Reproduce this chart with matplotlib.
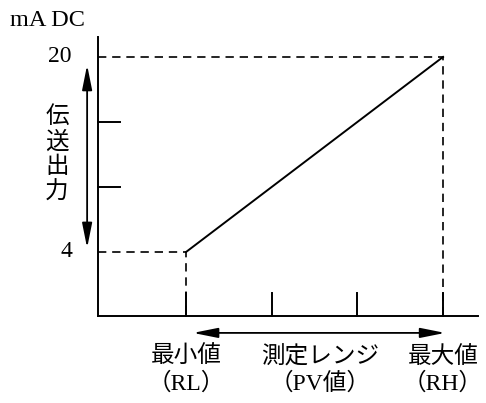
import numpy as np
import matplotlib.pyplot as plt

plt.rcParams['font.family'] = ['Liberation Serif', 'Noto Sans CJK JP']

# --- data ---------------------------------------
range_pct  = [0, 100]          # RL .. RH
output_ma  = [4, 20]           # transmitted output, mA DC
y_labels   = ['4', '20']
axis_label = '伝送出力'
unit_label = 'mA DC'
x_captions = [('最小値', '（RL）'), ('測定レンジ', '（PV値）'), ('最大値', '（RH）')]
caption_x  = [0, 52, 100]
# ------------------------------------------------

fig = plt.figure(figsize=(4.86, 4.03), dpi=100)
ax = fig.add_axes([0, 0, 1, 1])
ax.set_xlim(-72.4, 116.7)
ax.set_ylim(-8.39, 24.67)
ax.axis('off')

lw = 1.4
x0, x1 = -34.2, 113.6   # axis extents
y0, y1 = -1.25, 21.6

# axes
ax.plot([x0, x0], [y0, y1], color='black', lw=lw)
ax.plot([x0, x1], [y0, y0], color='black', lw=lw)

# y ticks (short, pointing right)
for v in np.linspace(output_ma[0], output_ma[1], 4)[1:-1]:
    ax.plot([x0, x0 + 8.5], [v, v], color='black', lw=lw)
# x ticks (pointing up)
for v in np.linspace(range_pct[0], range_pct[1], 4):
    ax.plot([v, v], [y0, y0 + 1.9], color='black', lw=lw)

# characteristic line
ax.plot(range_pct, output_ma, color='black', lw=lw)

# dashed guides
dash = dict(color='black', lw=1.2, ls=(0, (5, 3.5)))
ax.plot([x0, range_pct[0], range_pct[0]], [output_ma[0], output_ma[0], y0], **dash)
ax.plot([x0, range_pct[1], range_pct[1]], [output_ma[1], output_ma[1], y0], **dash)

# double arrows
arr = dict(arrowstyle='<|-|>,head_length=1.5,head_width=0.3', color='black',
           lw=1.3, shrinkA=0, shrinkB=0)
ax.annotate('', xy=(-38.5, 19.34), xytext=(-38.5, 4.33), arrowprops=arr)
ax.annotate('', xy=(2.7, -2.64), xytext=(100.8, -2.64), arrowprops=arr)

# texts
fs = 17
ax.text(-68.5, 23.0, unit_label, fontsize=17.5, ha='left', va='center')
for v, s in zip(output_ma, y_labels):
    ax.text(-44.4, v, s, fontsize=fs, ha='right', va='center')
for c, v in zip(axis_label, np.linspace(15.07, 8.84, len(axis_label))):
    ax.text(-50.2, v, c, fontsize=fs, ha='center', va='center')
for cx, (a, b) in zip(caption_x, x_captions):
    ax.text(cx, -4.61, a, fontsize=fs, ha='center', va='center')
    ax.text(cx, -6.75, b, fontsize=fs, ha='center', va='center')

fig.savefig('out.png', dpi=100)
